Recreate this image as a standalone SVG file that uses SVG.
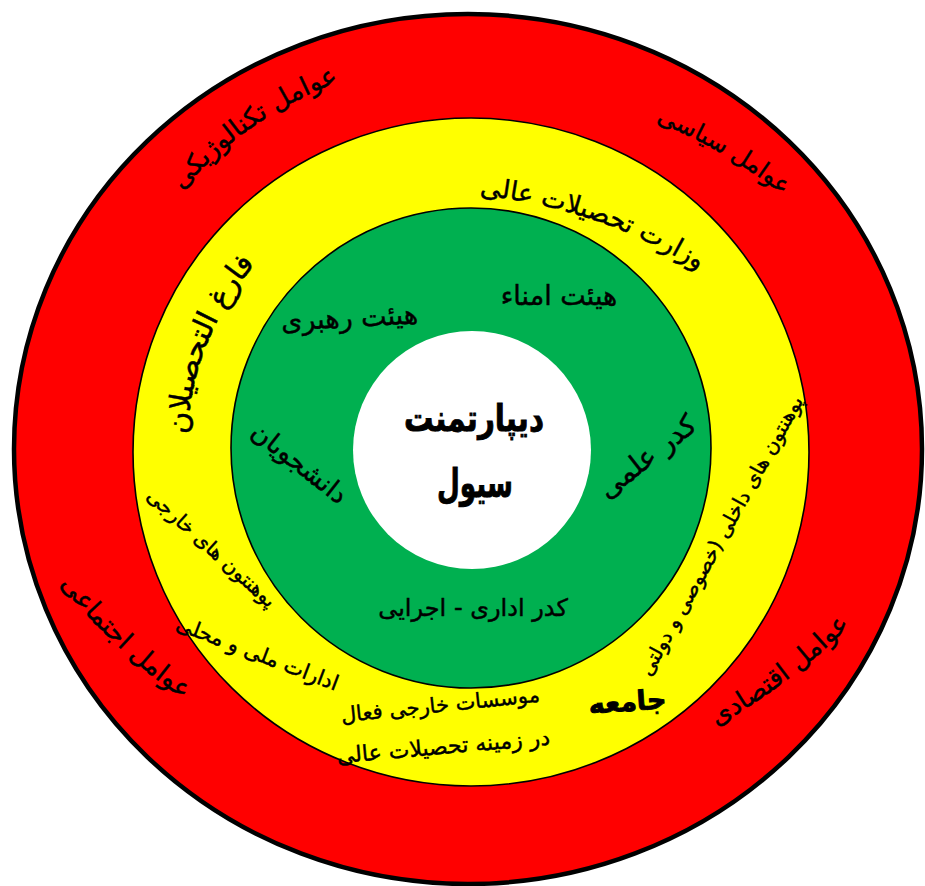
<svg xmlns="http://www.w3.org/2000/svg" width="925" height="886" viewBox="0 0 925 886">
<style>
.t{font-family:"DejaVu Sans","Noto Sans",sans-serif;fill:#000;stroke:#000;stroke-width:0.45;}
.b{font-weight:bold;stroke-width:0.9;}
.ring{stroke:#000;stroke-width:1.6;}
</style>
<defs>
<path id="p-tech" d="M 121.3 283.4 A 392 392 0 0 1 447.1 57.7"/>
<path id="p-pol" d="M 593 101.8 A 500 500 0 0 1 831.7 239.5"/>
<path id="p-soc" d="M 21.8 531.3 A 600 600 0 0 0 238.6 733.5"/>
<path id="p-eco" d="M 660 753.3 A 600 600 0 0 0 891.9 578.6"/>
<path id="p-min" d="M 375.2 196 A 507 507 0 0 1 780.9 334.1"/>
<path id="p-grad" d="M 189.9 489.5 A 284 284 0 0 1 295.4 225.8"/>
</defs>
<rect width="925" height="886" fill="#fff"/>
<g id="ring-red">
<ellipse cx="468" cy="449" rx="454" ry="435" fill="#FF0000" stroke="#000" stroke-width="4.5"/>
<text class="t" font-size="26"><textPath href="#p-tech" startOffset="50%" text-anchor="middle">عوامل تکنالوژیکی</textPath></text>
<text class="t" font-size="24"><textPath href="#p-pol" startOffset="50%" text-anchor="middle">عوامل سیاسی</textPath></text>
<text class="t" font-size="26"><textPath href="#p-soc" startOffset="50%" text-anchor="middle">عوامل اجتماعی</textPath></text>
<text class="t" font-size="26"><textPath href="#p-eco" startOffset="50%" text-anchor="middle">عوامل اقتصادی</textPath></text>
</g>
<g id="ring-yellow">
<ellipse class="ring" cx="471" cy="452" rx="338" ry="334" fill="#FFFF00"/>
</g>
<g id="ring-green">
<circle class="ring" cx="471" cy="448" r="240" fill="#00B050"/>
</g>
<g id="core">
<circle cx="472" cy="450" r="119" fill="#FFFFFF"/>
<text class="t b" font-size="37" x="474" y="431" text-anchor="middle" textLength="140" lengthAdjust="spacingAndGlyphs">دیپارتمنت</text>
<text class="t b" font-size="40" x="475" y="497" text-anchor="middle" textLength="76" lengthAdjust="spacingAndGlyphs">سیول</text>
</g>
<g id="yellow-labels">
<text class="t" font-size="26"><textPath href="#p-min" startOffset="50%" text-anchor="middle">وزارت تحصیلات عالی</textPath></text>
<text class="t" font-size="30"><textPath href="#p-grad" startOffset="50%" text-anchor="middle">فارغ التحصیلان</textPath></text>
<text class="t" font-size="20" text-anchor="middle" transform="translate(207,553) rotate(42)">پوهنتون های خارجی</text>
<text class="t" font-size="21" text-anchor="middle" transform="translate(255,660) rotate(21)">ادارات ملی و محلی</text>
<text class="t" font-size="21" text-anchor="middle" transform="translate(441,712) rotate(-6)">موسسات خارجی فعال</text>
<text class="t" font-size="22" text-anchor="middle" transform="translate(444,754) rotate(-5)">در زمینه تحصیلات عالی</text>
<text class="t b" font-size="27" text-anchor="middle" transform="translate(628,711) rotate(-4)">جامعه</text>
<text class="t" font-size="20" text-anchor="middle" transform="translate(727,539) rotate(-61)">پوهنتون های داخلی (خصوصی و دولتی</text>
</g>
<g id="green-labels">
<text class="t" font-size="27" x="559" y="305" text-anchor="middle">هیئت امناء</text>
<text class="t" font-size="27" text-anchor="middle" transform="translate(350,327) rotate(-3)">هیئت رهبری</text>
<text class="t" font-size="26" text-anchor="middle" transform="translate(294,470) rotate(38)">دانشجویان</text>
<text class="t" font-size="28" text-anchor="middle" transform="translate(653,464) rotate(-38)">کدر علمی</text>
<text class="t" font-size="24" x="473" y="616" text-anchor="middle">کدر اداری - اجرایی</text>
</g>
<g id="connectors"/>
</svg>
